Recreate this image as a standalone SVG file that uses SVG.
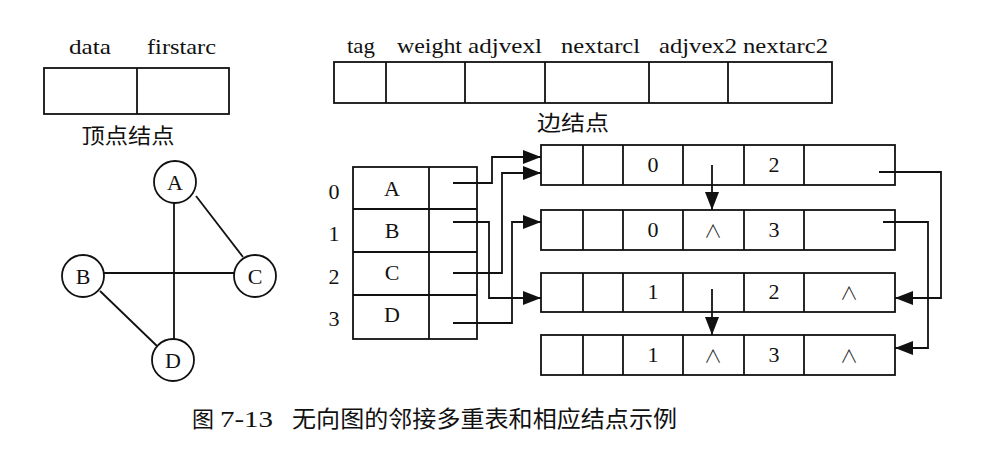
<svg xmlns="http://www.w3.org/2000/svg" width="993" height="469" viewBox="0 0 993 469">
<style>
.b{fill:none;stroke:#111;stroke-width:1.8}
.c{fill:#fff;stroke:#111;stroke-width:1.8}
.l{fill:none;stroke:#111;stroke-width:1.8}
.t{font-family:"Liberation Serif","Times New Roman",serif;fill:#111}
.h{font-size:21px}
.v{font-size:22px;text-anchor:middle}
.n{font-family:"Noto Sans CJK SC","DejaVu Sans",sans-serif;font-weight:300;font-size:18px;text-anchor:middle;fill:#222}
.z{font-family:"Noto Sans CJK SC","Liberation Serif",serif;fill:#111}
</style>
<defs>
<marker id="ar" markerUnits="userSpaceOnUse" markerWidth="18" markerHeight="14" refX="18" refY="7" orient="auto">
<path d="M0,0 L18,7 L0,14 Z" fill="#111"/>
</marker>
</defs>
<rect width="993" height="469" fill="#fff"/>

<g id="vertex-format">
<rect class="b" x="44" y="68" width="185" height="46"/>
<line class="b" x1="137" y1="68" x2="137" y2="114"/>
<text class="t h" x="69" y="54" textLength="42" lengthAdjust="spacingAndGlyphs">data</text>
<text class="t h" x="147" y="54" textLength="69" lengthAdjust="spacingAndGlyphs">firstarc</text>
<text class="z" x="128" y="143" font-size="21" text-anchor="middle" textLength="93" lengthAdjust="spacingAndGlyphs">顶点结点</text>
</g>

<g id="edge-format">
<rect class="b" x="334" y="62" width="498" height="41"/>
<line class="b" x1="386" y1="62" x2="386" y2="103"/>
<line class="b" x1="465" y1="62" x2="465" y2="103"/>
<line class="b" x1="545" y1="62" x2="545" y2="103"/>
<line class="b" x1="649" y1="62" x2="649" y2="103"/>
<line class="b" x1="728" y1="62" x2="728" y2="103"/>
<text class="t h" x="347" y="53" textLength="28" lengthAdjust="spacingAndGlyphs">tag</text>
<text class="t h" x="397" y="53" textLength="65" lengthAdjust="spacingAndGlyphs">weight</text>
<text class="t h" x="468" y="53" textLength="74" lengthAdjust="spacingAndGlyphs">adjvexl</text>
<text class="t h" x="561" y="53" textLength="79" lengthAdjust="spacingAndGlyphs">nextarcl</text>
<text class="t h" x="659" y="53" textLength="78" lengthAdjust="spacingAndGlyphs">adjvex2</text>
<text class="t h" x="743" y="53" textLength="85" lengthAdjust="spacingAndGlyphs">nextarc2</text>
<text class="z" x="573" y="130" font-size="21" text-anchor="middle" textLength="72" lengthAdjust="spacingAndGlyphs">边结点</text>
</g>

<g id="graph">
<line class="l" x1="174" y1="203" x2="174" y2="339"/>
<line class="l" x1="104" y1="273" x2="234" y2="273"/>
<line class="l" x1="196" y1="196" x2="243" y2="257"/>
<line class="l" x1="100" y1="291" x2="157" y2="346"/>
<g id="gA"><circle class="c" cx="175" cy="182" r="21"/><text class="t v" x="175" y="190">A</text></g>
<g id="gB"><circle class="c" cx="83" cy="276" r="21"/><text class="t v" x="83" y="284">B</text></g>
<g id="gC"><circle class="c" cx="255" cy="276" r="21"/><text class="t v" x="255" y="284">C</text></g>
<g id="gD"><circle class="c" cx="173" cy="360" r="21"/><text class="t v" x="173" y="368">D</text></g>
</g>

<g id="vertex-table">
<rect class="b" x="353" y="167" width="124" height="172"/>
<line class="b" x1="429" y1="167" x2="429" y2="339"/>
<line class="b" x1="353" y1="209" x2="477" y2="209"/>
<line class="b" x1="353" y1="252" x2="477" y2="252"/>
<line class="b" x1="353" y1="295" x2="477" y2="295"/>
<text class="t v" x="392" y="196">A</text>
<text class="t v" x="392" y="238">B</text>
<text class="t v" x="392" y="280">C</text>
<text class="t v" x="392" y="322">D</text>
<text class="t v" x="334" y="199">0</text>
<text class="t v" x="334" y="241">1</text>
<text class="t v" x="334" y="284">2</text>
<text class="t v" x="334" y="326">3</text>
</g>

<g id="edge-row1">
<rect class="b" x="541" y="145" width="354" height="40"/>
<line class="b" x1="583" y1="145" x2="583" y2="185"/>
<line class="b" x1="623" y1="145" x2="623" y2="185"/>
<line class="b" x1="683" y1="145" x2="683" y2="185"/>
<line class="b" x1="744" y1="145" x2="744" y2="185"/>
<line class="b" x1="804" y1="145" x2="804" y2="185"/>
<text class="t v" x="653" y="172">0</text>
<text class="t v" x="774" y="172">2</text>
</g>
<g id="edge-row2">
<rect class="b" x="541" y="210" width="354" height="40"/>
<line class="b" x1="583" y1="210" x2="583" y2="250"/>
<line class="b" x1="623" y1="210" x2="623" y2="250"/>
<line class="b" x1="683" y1="210" x2="683" y2="250"/>
<line class="b" x1="744" y1="210" x2="744" y2="250"/>
<line class="b" x1="804" y1="210" x2="804" y2="250"/>
<text class="t v" x="653" y="237">0</text>
<text class="n" x="713" y="238">∧</text>
<text class="t v" x="774" y="237">3</text>
</g>
<g id="edge-row3">
<rect class="b" x="541" y="273" width="354" height="39"/>
<line class="b" x1="583" y1="273" x2="583" y2="312"/>
<line class="b" x1="623" y1="273" x2="623" y2="312"/>
<line class="b" x1="683" y1="273" x2="683" y2="312"/>
<line class="b" x1="744" y1="273" x2="744" y2="312"/>
<line class="b" x1="804" y1="273" x2="804" y2="312"/>
<text class="t v" x="653" y="299">1</text>
<text class="t v" x="774" y="299">2</text>
<text class="n" x="849" y="300">∧</text>
</g>
<g id="edge-row4">
<rect class="b" x="541" y="335" width="354" height="40"/>
<line class="b" x1="583" y1="335" x2="583" y2="375"/>
<line class="b" x1="623" y1="335" x2="623" y2="375"/>
<line class="b" x1="683" y1="335" x2="683" y2="375"/>
<line class="b" x1="744" y1="335" x2="744" y2="375"/>
<line class="b" x1="804" y1="335" x2="804" y2="375"/>
<text class="t v" x="653" y="362">1</text>
<text class="n" x="713" y="363">∧</text>
<text class="t v" x="774" y="362">3</text>
<text class="n" x="849" y="363">∧</text>
</g>

<g id="connectors">
<polyline class="l" points="453,183 492,183 492,157 541,157" marker-end="url(#ar)"/>
<polyline class="l" points="453,273 502,273 502,173 541,173" marker-end="url(#ar)"/>
<polyline class="l" points="453,222 489,222 489,298 541,298" marker-end="url(#ar)"/>
<polyline class="l" points="453,323 512,323 512,222 541,222" marker-end="url(#ar)"/>
<polyline class="l" points="879,172 941,172 941,298 895,298" marker-end="url(#ar)"/>
<polyline class="l" points="883,222 928,222 928,348 895,348" marker-end="url(#ar)"/>
<line class="l" x1="712" y1="165" x2="712" y2="210" marker-end="url(#ar)"/>
<line class="l" x1="712" y1="289" x2="712" y2="335" marker-end="url(#ar)"/>
</g>

<g id="caption">
<text class="z" x="192" y="427" font-size="22">图</text>
<text class="t" x="220" y="427" font-size="23" textLength="53" lengthAdjust="spacingAndGlyphs">7-13</text>
<text class="z" x="292" y="427" font-size="23" textLength="385" lengthAdjust="spacingAndGlyphs">无向图的邻接多重表和相应结点示例</text>
</g>
</svg>
